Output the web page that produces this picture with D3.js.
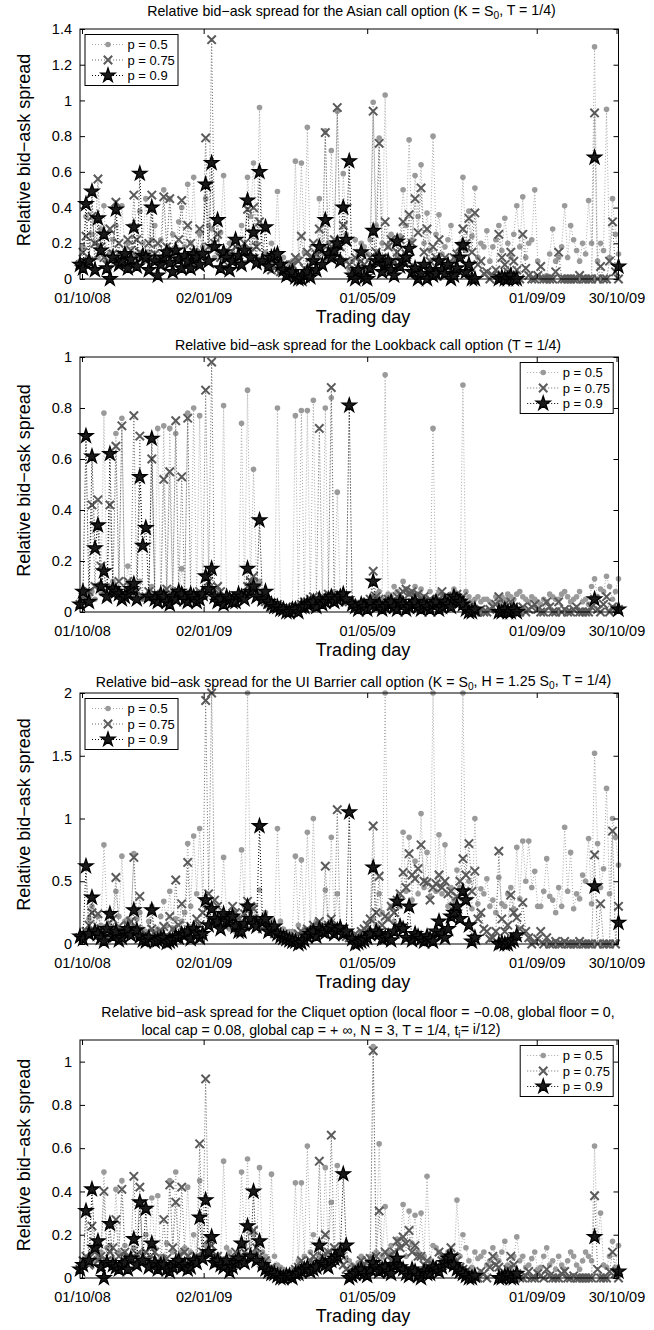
<!DOCTYPE html>
<html>
<head>
<meta charset="utf-8">
<script src="https://cdn.jsdelivr.net/npm/d3@7"></script>
<style>
    body { margin: 0; background: #fff; }
    svg text { font-family: "Liberation Sans", Arial, Helvetica, sans-serif; fill: #000; }
</style>
</head>
<body>
<svg id="chart" width="654" height="1330"></svg>
<script>
// ============================================
// 데이터 (그림에서 읽은 값, 1.5 거래일 간격)
// ============================================

const tradingDay = [
    0, 1.5, 3, 4.5, 6, 7.5, 9, 10.5, 12, 13.5, 15, 16.5, 18, 19.5, 21, 22.5, 24, 25.5, 27, 28.5,
    30, 31.5, 33, 34.5, 36, 37.5, 39, 40.5, 42, 43.5, 45, 46.5, 48, 49.5, 51, 52.5, 54, 55.5, 57, 58.5,
    60, 61.5, 63, 64.5, 66, 67.5, 69, 70.5, 72, 73.5, 75, 76.5, 78, 79.5, 81, 82.5, 84, 85.5, 87, 88.5,
    90, 91.5, 93, 94.5, 96, 97.5, 99, 100.5, 102, 103.5, 105, 106.5, 108, 109.5, 111, 112.5, 114, 115.5, 117, 118.5,
    120, 121.5, 123, 124.5, 126, 127.5, 129, 130.5, 132, 133.5, 135, 136.5, 138, 139.5, 141, 142.5, 144, 145.5, 147, 148.5,
    150, 151.5, 153, 154.5, 156, 157.5, 159, 160.5, 162, 163.5, 165, 166.5, 168, 169.5, 171, 172.5, 174, 175.5, 177, 178.5,
    180, 181.5, 183, 184.5, 186, 187.5, 189, 190.5, 192, 193.5, 195, 196.5, 198, 199.5, 201, 202.5, 204, 205.5, 207, 208.5,
    210, 211.5, 213, 214.5, 216, 217.5, 219, 220.5, 222, 223.5, 225, 226.5, 228, 229.5, 231, 232.5, 234, 235.5, 237, 238.5,
    240, 241.5, 243, 244.5, 246, 247.5, 249, 250.5, 252, 253.5, 255, 256.5, 258, 259.5, 261, 262.5, 264, 265.5, 267, 268.5,
    270
];

const xTickDays = [1, 62, 144, 229, 269];
const xTickLabels = ['01/10/08', '02/01/09', '01/05/09', '01/09/09', '30/10/09'];

const seriesNames = ['p = 0.5', 'p = 0.75', 'p = 0.9'];

// Asian call option
const asianP50 = [
    0.10,0.18, 0.35,0.12, 0.25,0.20, 0.12,0.28, 0.41,0.10, 0.15,0.22, 0.30,0.14, 0.41,0.16, 0.20,0.30, 0.14,0.12,
    0.38,0.20, 0.45,0.15, 0.22,0.30, 0.10,0.22, 0.50,0.14, 0.45,0.25, 0.18,0.32, 0.40,0.18, 0.53,0.20, 0.57,0.16,
    0.25,0.18, 0.45,0.30, 0.28,0.12, 0.15,0.26, 0.58,0.15, 0.20,0.22, 0.12,0.18, 0.30,0.14, 0.57,0.35, 0.65,0.20,
    0.96,0.12, 0.15,0.10, 0.20,0.14, 0.49,0.08, 0.12,0.06, 0.08,0.10, 0.66,0.12, 0.65,0.15, 0.85,0.08, 0.10,0.12,
    0.45,0.15, 0.83,0.20, 0.72,0.18, 0.94,0.12, 0.59,0.25, 0.05,0.10, 0.22,0.14, 0.20,0.18, 0.14,0.22, 0.99,0.30,
    0.79,0.20, 1.03,0.18, 0.25,0.10, 0.12,0.24, 0.50,0.30, 0.78,0.22, 0.58,0.35, 0.64,0.20, 0.37,0.16, 0.80,0.25,
    0.36,0.14, 0.18,0.22, 0.30,0.10, 0.12,0.20, 0.57,0.16, 0.38,0.24, 0.51,0.12, 0.20,0.18, 0.27,0.10, 0.18,0.22,
    0.30,0.16, 0.34,0.20, 0.12,0.25, 0.41,0.18, 0.46,0.12, 0.20,0.22, 0.50,0.10, 0.00,0.00, 0.02,0.14, 0.28,0.10,
    0.12,0.18, 0.41,0.12, 0.30,0.22, 0.16,0.10, 0.20,0.14, 0.44,0.20, 1.30,0.10, 0.20,0.16, 0.95,0.12, 0.45,0.25,
    0.14
];
const asianP75 = [
    0.08,0.15, 0.24,0.10, 0.35,0.20, 0.56,0.18, 0.12,0.08, 0.28,0.14, 0.43,0.20, 0.10,0.12, 0.22,0.16, 0.47,0.22,
    0.15,0.12, 0.10,0.20, 0.47,0.14, 0.20,0.10, 0.46,0.18, 0.45,0.16, 0.12,0.22, 0.44,0.12, 0.30,0.20, 0.15,0.10,
    0.28,0.14, 0.79,0.18, 1.34,0.20, 0.25,0.12, 0.10,0.16, 0.14,0.10, 0.18,0.12, 0.08,0.20, 0.39,0.15, 0.40,0.18,
    0.32,0.10, 0.12,0.08, 0.05,0.06, 0.10,0.04, 0.08,0.05, 0.04,0.08, 0.12,0.10, 0.24,0.06, 0.15,0.12, 0.20,0.14,
    0.28,0.16, 0.82,0.12, 0.18,0.22, 0.96,0.18, 0.30,0.10, 0.08,0.04, 0.12,0.06, 0.10,0.08, 0.06,0.12, 0.94,0.15,
    0.76,0.12, 0.32,0.18, 0.22,0.10, 0.15,0.22, 0.32,0.14, 0.36,0.20, 0.45,0.26, 0.51,0.15, 0.28,0.10, 0.18,0.12,
    0.22,0.10, 0.12,0.06, 0.08,0.12, 0.14,0.18, 0.28,0.20, 0.34,0.15, 0.37,0.08, 0.10,0.03, 0.04,0.00, 0.02,0.05,
    0.25,0.12, 0.08,0.04, 0.15,0.10, 0.05,0.00, 0.25,0.06, 0.02,0.00, 0.00,0.02, 0.07,0.00, 0.00,0.00, 0.00,0.04,
    0.15,0.00, 0.00,0.00, 0.00,0.00, 0.00,0.02, 0.00,0.00, 0.00,0.00, 0.93,0.00, 0.07,0.00, 0.00,0.10, 0.32,0.04,
    0.00
];
const asianP90 = [
    0.08,0.06, 0.42,0.10, 0.49,0.05, 0.34,0.16, 0.25,0.06, 0.00,0.12, 0.39,0.08, 0.10,0.14, 0.06,0.11, 0.29,0.07,
    0.59,0.13, 0.12,0.05, 0.40,0.10, 0.02,0.08, 0.12,0.15, 0.09,0.04, 0.16,0.11, 0.06,0.13, 0.10,0.06, 0.14,0.12,
    0.08,0.14, 0.53,0.10, 0.65,0.18, 0.33,0.06, 0.15,0.12, 0.05,0.10, 0.22,0.13, 0.08,0.16, 0.44,0.12, 0.26,0.09,
    0.60,0.10, 0.29,0.07, 0.12,0.13, 0.14,0.08, 0.05,0.02, 0.03,0.04, 0.01,0.00, 0.00,0.02, 0.04,0.01, 0.10,0.05,
    0.18,0.08, 0.33,0.14, 0.12,0.16, 0.20,0.10, 0.40,0.22, 0.66,0.02, 0.00,0.05, 0.15,0.01, 0.00,0.06, 0.27,0.10,
    0.12,0.04, 0.08,0.10, 0.05,0.02, 0.21,0.07, 0.10,0.12, 0.17,0.04, 0.06,0.00, 0.03,0.08, 0.00,0.05, 0.02,0.03,
    0.10,0.05, 0.03,0.08, 0.00,0.02, 0.06,0.12, 0.19,0.04, 0.08,0.00, 0.00,null, null,null, null,null, null,null,
    0.00,0.01, 0.00,0.00, 0.02,0.00, 0.00,null, null,null, null,null, null,null, null,null, null,null, null,null,
    null,null, null,null, null,null, null,null, null,null, null,null, 0.68,null, null,null, null,null, null,null,
    0.07
];

// Lookback call option
const lookbackP50 = [
    0.03,0.04, 0.05,0.06, 0.08,0.05, 0.10,0.08, 0.78,0.07, 0.10,0.12, 0.70,0.09, 0.76,0.06, 0.18,0.10, 0.08,0.05,
    0.12,0.05, 0.06,0.08, 0.10,0.06, 0.72,0.07, 0.73,0.05, 0.72,0.09, 0.70,0.06, 0.17,0.08, 0.78,0.07, 0.80,0.05,
    0.77,0.06, 0.06,0.08, 0.09,0.05, 0.05,0.07, 0.81,0.06, 0.06,0.05, 0.04,0.06, 0.74,0.08, 0.87,0.10, 0.56,0.12,
    0.12,0.06, 0.05,0.04, 0.03,0.02, 0.80,0.03, 0.02,0.01, 0.01,0.02, 0.77,0.03, 0.79,0.04, 0.79,0.05, 0.83,0.04,
    0.05,0.04, 0.80,0.06, 0.84,0.08, 0.47,0.05, 0.06,0.04, 0.05,0.03, 0.04,0.02, 0.02,0.04, 0.03,0.05, 0.06,0.07,
    0.08,0.05, 0.93,0.07, 0.06,0.10, 0.08,0.06, 0.12,0.09, 0.07,0.08, 0.10,0.07, 0.09,0.06, 0.05,0.08, 0.72,0.06,
    0.08,0.07, 0.06,0.05, 0.07,0.09, 0.05,0.06, 0.89,0.08, 0.06,0.04, 0.05,0.06, 0.04,0.05, 0.05,0.04, 0.03,0.06,
    0.04,0.06, 0.05,0.07, 0.06,0.05, 0.07,0.08, 0.06,0.05, 0.04,0.06, 0.05,0.04, 0.03,0.05, 0.04,0.07, 0.06,0.05,
    0.05,0.07, 0.08,0.06, 0.04,0.05, 0.06,0.08, 0.04,0.05, 0.03,0.10, 0.13,0.06, 0.09,0.08, 0.14,0.10, 0.05,0.08,
    0.13
];
const lookbackP75 = [
    0.03,0.06, 0.05,0.08, 0.42,0.10, 0.44,0.18, 0.08,0.06, 0.42,0.09, 0.65,0.12, 0.73,0.07, 0.12,0.10, 0.77,0.08,
    0.69,0.06, 0.06,0.08, 0.60,0.07, 0.05,0.05, 0.52,0.09, 0.55,0.06, 0.75,0.08, 0.53,0.07, 0.76,0.06, 0.07,0.05,
    0.08,0.07, 0.87,0.12, 0.98,0.09, 0.10,0.08, 0.06,0.05, 0.05,0.06, 0.04,0.05, 0.06,0.07, 0.10,0.12, 0.14,0.09,
    0.07,0.05, 0.04,0.03, 0.02,0.02, 0.03,0.01, 0.01,0.02, 0.01,0.01, 0.02,0.02, 0.03,0.04, 0.04,0.05, 0.06,0.04,
    0.72,0.06, 0.05,0.07, 0.88,0.06, 0.06,0.05, 0.05,0.04, 0.04,0.03, 0.03,0.02, 0.02,0.03, 0.04,0.05, 0.16,0.06,
    0.05,0.04, 0.03,0.05, 0.04,0.03, 0.06,0.07, 0.08,0.09, 0.07,0.08, 0.06,0.07, 0.05,0.06, 0.04,0.05, 0.03,0.04,
    0.05,0.08, 0.06,0.05, 0.04,0.06, 0.07,0.05, 0.06,0.03, 0.02,0.01, 0.00,0.00, 0.01,0.00, 0.00,0.01, 0.02,0.03,
    0.06,0.02, 0.03,0.01, 0.04,0.02, 0.00,0.00, 0.02,0.00, 0.01,0.02, 0.03,0.01, 0.00,0.00, 0.04,0.02, 0.00,0.00,
    0.04,0.00, 0.01,0.00, 0.00,0.01, 0.02,0.00, 0.00,0.00, 0.00,0.02, 0.05,0.01, 0.00,0.03, 0.06,0.00, 0.02,0.01,
    0.01
];
const lookbackP90 = [
    0.03,0.08, 0.69,0.04, 0.61,0.25, 0.34,0.10, 0.16,0.06, 0.62,0.09, 0.08,0.07, 0.05,0.06, 0.07,0.09, 0.11,0.05,
    0.53,0.26, 0.33,0.06, 0.68,0.05, 0.04,0.07, 0.06,0.04, 0.03,0.06, 0.05,0.08, 0.07,0.05, 0.04,0.07, 0.06,0.04,
    0.05,0.07, 0.14,0.09, 0.17,0.06, 0.04,0.05, 0.03,0.06, 0.05,0.04, 0.04,0.07, 0.06,0.05, 0.17,0.08, 0.10,0.06,
    0.36,0.05, 0.08,0.04, 0.03,0.02, 0.02,0.01, 0.01,0.00, 0.00,0.01, 0.01,0.00, 0.02,0.02, 0.03,0.03, 0.04,0.02,
    0.05,0.03, 0.04,0.05, 0.06,0.04, 0.05,0.06, 0.07,0.05, 0.81,0.03, 0.02,0.01, 0.03,0.02, 0.01,0.04, 0.12,0.02,
    0.03,0.01, 0.02,0.03, 0.04,0.02, 0.01,0.04, 0.03,0.01, 0.02,0.03, 0.04,0.02, 0.01,0.03, 0.02,0.01, 0.03,0.04,
    0.01,0.02, 0.04,0.03, 0.02,0.06, 0.05,0.04, 0.03,0.01, 0.00,0.00, 0.01,null, null,null, null,null, null,null,
    0.00,0.00, 0.01,0.00, 0.00,0.01, 0.00,null, null,null, null,null, null,null, null,null, null,null, null,null,
    null,null, null,null, null,null, null,null, null,null, null,null, 0.05,null, null,null, null,null, null,null,
    0.01
];

// UI Barrier call option
const barrierP50 = [
    0.05,0.08, 0.10,0.20, 0.30,0.12, 0.22,0.15, 0.79,0.25, 0.15,0.10, 0.42,0.22, 0.70,0.18, 0.20,0.14, 0.72,0.20,
    0.25,0.12, 0.10,0.18, 0.30,0.10, 0.12,0.22, 0.34,0.15, 0.42,0.12, 0.20,0.08, 0.18,0.25, 0.80,0.30, 0.86,0.40,
    0.92,0.35, 0.30,0.22, 0.20,0.28, 0.15,0.18, 0.69,0.24, 0.12,0.15, 0.10,0.20, 0.75,0.30, 2.00,0.25, 0.30,0.22,
    0.43,0.20, 0.25,0.15, 0.20,0.12, 0.92,0.18, 0.12,0.08, 0.10,0.10, 0.70,0.15, 0.67,0.12, 0.89,0.10, 1.00,0.18,
    0.15,0.10, 0.43,0.12, 0.85,0.15, 0.40,0.12, 0.10,0.06, 0.08,0.04, 0.06,0.05, 0.10,0.08, 0.12,0.10, 0.20,0.15,
    0.40,0.25, 2.00,0.20, 0.30,0.18, 0.35,0.30, 0.89,0.42, 0.85,0.35, 0.66,0.40, 1.04,0.45, 0.73,0.38, 2.00,0.42,
    0.87,0.40, 0.79,0.30, 0.45,0.35, 0.59,0.45, 2.00,0.38, 0.50,0.28, 1.00,0.32, 0.44,0.40, 0.52,0.30, 0.35,0.25,
    0.53,0.32, 0.30,0.40, 0.45,0.28, 0.77,0.36, 0.82,0.50, 0.82,0.45, 0.58,0.30, 0.30,0.42, 0.68,0.38, 0.35,0.25,
    0.45,0.30, 0.93,0.42, 0.73,0.28, 0.40,0.36, 0.55,0.50, 0.84,0.32, 1.52,0.80, 0.45,0.60, 1.24,0.40, 1.00,0.85,
    0.63
];
const barrierP75 = [
    0.05,0.06, 0.10,0.15, 0.25,0.10, 0.24,0.12, 0.08,0.05, 0.12,0.20, 0.53,0.14, 0.10,0.08, 0.15,0.18, 0.69,0.12,
    0.38,0.06, 0.08,0.05, 0.12,0.08, 0.05,0.10, 0.14,0.06, 0.22,0.12, 0.51,0.15, 0.32,0.10, 0.65,0.14, 0.10,0.20,
    0.15,0.25, 1.94,0.40, 2.00,0.35, 0.30,0.22, 0.15,0.18, 0.20,0.30, 0.25,0.20, 0.18,0.24, 0.34,0.30, 0.28,0.18,
    0.20,0.12, 0.15,0.10, 0.12,0.08, 0.10,0.06, 0.08,0.04, 0.05,0.05, 0.06,0.08, 0.10,0.07, 0.12,0.10, 0.15,0.12,
    0.18,0.10, 0.62,0.15, 0.20,0.12, 1.07,0.10, 0.12,0.06, 0.05,0.04, 0.08,0.06, 0.10,0.12, 0.15,0.20, 0.94,0.25,
    0.54,0.15, 0.22,0.20, 0.30,0.25, 0.35,0.40, 0.57,0.45, 0.72,0.55, 0.52,0.60, 0.79,0.50, 0.49,0.35, 0.45,0.48,
    0.55,0.45, 0.50,0.40, 0.42,0.30, 0.38,0.50, 0.68,0.55, 0.80,0.42, 0.58,0.20, 0.25,0.12, 0.10,0.04, 0.05,0.10,
    0.74,0.20, 0.10,0.15, 0.39,0.25, 0.21,0.12, 0.33,0.10, 0.05,0.00, 0.02,0.04, 0.10,0.00, 0.05,0.00, 0.00,0.02,
    0.00,0.00, 0.02,0.00, 0.00,0.00, 0.00,0.02, 0.00,0.00, 0.00,0.00, 0.71,0.00, 0.32,0.00, 0.00,0.00, 0.90,0.00,
    0.30
];
const barrierP90 = [
    0.06,0.04, 0.62,0.08, 0.37,0.10, 0.08,0.05, 0.02,0.12, 0.24,0.06, 0.10,0.03, 0.05,0.09, 0.12,0.07, 0.27,0.11,
    0.06,0.03, 0.02,0.05, 0.27,0.02, 0.03,0.04, 0.05,0.01, 0.02,0.03, 0.06,0.05, 0.08,0.07, 0.10,0.04, 0.12,0.09,
    0.05,0.08, 0.35,0.15, 0.28,0.20, 0.18,0.12, 0.24,0.18, 0.20,0.22, 0.14,0.10, 0.10,0.16, 0.30,0.20, 0.16,0.14,
    0.94,0.18, 0.20,0.10, 0.12,0.14, 0.08,0.06, 0.05,0.04, 0.03,0.02, 0.02,0.00, 0.01,0.03, 0.06,0.08, 0.10,0.06,
    0.12,0.10, 0.09,0.12, 0.14,0.08, 0.11,0.13, 0.08,0.10, 1.05,0.04, 0.00,0.01, 0.02,0.03, 0.05,0.08, 0.61,0.10,
    0.08,0.04, 0.05,0.06, 0.03,0.10, 0.34,0.14, 0.12,0.05, 0.30,0.03, 0.08,0.06, 0.04,0.02, 0.06,0.04, 0.02,0.10,
    0.18,0.08, 0.05,0.12, 0.22,0.25, 0.30,0.20, 0.42,0.35, 0.15,0.02, 0.05,null, null,null, null,null, null,null,
    0.00,0.01, 0.00,0.00, 0.02,0.03, 0.07,null, null,null, null,null, null,null, null,null, null,null, null,null,
    null,null, null,null, null,null, null,null, null,null, null,null, 0.46,null, null,null, null,null, null,null,
    0.17
];

// Cliquet option
const cliquetP50 = [
    0.04,0.06, 0.08,0.10, 0.12,0.08, 0.10,0.12, 0.49,0.14, 0.15,0.09, 0.41,0.12, 0.45,0.15, 0.10,0.08, 0.14,0.10,
    0.08,0.12, 0.20,0.09, 0.37,0.14, 0.38,0.10, 0.10,0.16, 0.45,0.12, 0.49,0.10, 0.12,0.14, 0.42,0.12, 0.20,0.08,
    0.45,0.10, 0.15,0.12, 0.08,0.06, 0.10,0.09, 0.54,0.14, 0.12,0.08, 0.10,0.12, 0.49,0.15, 0.55,0.10, 0.20,0.12,
    0.51,0.12, 0.10,0.08, 0.48,0.10, 0.06,0.05, 0.04,0.03, 0.02,0.04, 0.44,0.08, 0.44,0.10, 0.61,0.12, 0.20,0.08,
    0.10,0.08, 0.51,0.12, 0.35,0.10, 0.52,0.14, 0.12,0.09, 0.08,0.06, 0.05,0.07, 0.10,0.05, 0.07,0.10, 1.07,0.12,
    0.62,0.10, 0.33,0.12, 0.15,0.08, 0.18,0.14, 0.34,0.10, 0.31,0.16, 0.29,0.12, 0.30,0.10, 0.47,0.08, 0.15,0.14,
    0.12,0.08, 0.10,0.12, 0.08,0.06, 0.36,0.10, 0.20,0.14, 0.08,0.05, 0.12,0.09, 0.10,0.12, 0.06,0.08, 0.14,0.10,
    0.08,0.12, 0.17,0.06, 0.05,0.10, 0.19,0.08, 0.10,0.05, 0.06,0.09, 0.12,0.04, 0.05,0.10, 0.14,0.06, 0.08,0.04,
    0.10,0.06, 0.04,0.08, 0.12,0.10, 0.06,0.04, 0.08,0.12, 0.10,0.08, 0.61,0.18, 0.30,0.06, 0.05,0.10, 0.17,0.05,
    0.15
];
const cliquetP75 = [
    0.04,0.08, 0.10,0.06, 0.24,0.12, 0.08,0.10, 0.40,0.08, 0.12,0.14, 0.27,0.10, 0.41,0.12, 0.10,0.09, 0.47,0.11,
    0.42,0.10, 0.12,0.08, 0.15,0.12, 0.08,0.06, 0.27,0.09, 0.43,0.14, 0.35,0.10, 0.42,0.12, 0.10,0.07, 0.08,0.10,
    0.62,0.12, 0.92,0.18, 0.15,0.10, 0.10,0.08, 0.08,0.06, 0.06,0.09, 0.12,0.07, 0.10,0.12, 0.23,0.10, 0.22,0.14,
    0.10,0.06, 0.08,0.04, 0.05,0.03, 0.03,0.02, 0.02,0.01, 0.01,0.02, 0.04,0.05, 0.08,0.06, 0.05,0.08, 0.10,0.06,
    0.54,0.10, 0.20,0.12, 0.66,0.14, 0.12,0.08, 0.06,0.04, 0.03,0.02, 0.05,0.04, 0.08,0.06, 0.08,0.09, 1.05,0.10,
    0.31,0.06, 0.12,0.10, 0.08,0.12, 0.17,0.14, 0.19,0.16, 0.22,0.12, 0.15,0.10, 0.10,0.06, 0.08,0.04, 0.06,0.05,
    0.12,0.08, 0.10,0.06, 0.14,0.10, 0.08,0.05, 0.04,0.03, 0.02,0.01, 0.01,0.00, 0.03,0.02, 0.00,0.05, 0.10,0.06,
    0.05,0.02, 0.00,0.04, 0.10,0.06, 0.02,0.00, 0.00,0.01, 0.03,0.00, 0.00,0.02, 0.01,0.00, 0.04,0.01, 0.00,0.00,
    0.00,0.02, 0.03,0.00, 0.00,0.01, 0.00,0.00, 0.00,0.00, 0.00,0.00, 0.38,0.04, 0.00,0.00, 0.00,0.03, 0.12,0.02,
    0.00
];
const cliquetP90 = [
    0.04,0.06, 0.31,0.08, 0.41,0.14, 0.17,0.05, 0.00,0.07, 0.25,0.06, 0.05,0.04, 0.06,0.07, 0.04,0.09, 0.18,0.06,
    0.35,0.08, 0.32,0.05, 0.16,0.07, 0.04,0.06, 0.06,0.04, 0.03,0.05, 0.07,0.08, 0.05,0.06, 0.04,0.05, 0.08,0.07,
    0.28,0.09, 0.36,0.12, 0.19,0.07, 0.08,0.06, 0.05,0.08, 0.03,0.05, 0.07,0.09, 0.16,0.07, 0.24,0.10, 0.40,0.08,
    0.17,0.06, 0.04,0.03, 0.02,0.02, 0.01,0.00, 0.00,0.01, 0.01,0.00, 0.02,0.02, 0.03,0.04, 0.05,0.03, 0.04,0.05,
    0.15,0.07, 0.06,0.05, 0.08,0.09, 0.10,0.12, 0.48,0.15, 0.00,0.01, 0.02,0.03, 0.04,0.02, 0.01,0.04, 0.07,0.05,
    0.03,0.04, 0.05,0.03, 0.02,0.06, 0.09,0.05, 0.04,0.02, 0.01,0.04, 0.03,0.01, 0.00,0.03, 0.02,0.02, 0.05,0.04,
    0.03,0.05, 0.07,0.09, 0.10,0.06, 0.04,0.03, 0.02,0.01, 0.00,0.00, 0.01,null, null,null, null,null, null,null,
    0.00,0.00, 0.01,0.01, 0.00,0.00, 0.02,null, null,null, null,null, null,null, null,null, null,null, null,null,
    null,null, null,null, null,null, null,null, null,null, null,null, 0.19,null, null,null, null,null, null,null,
    0.03
];

const asianYTicks = [0, 0.2, 0.4, 0.6, 0.8, 1, 1.2, 1.4];
const lookbackYTicks = [0, 0.2, 0.4, 0.6, 0.8, 1];
const barrierYTicks = [0, 0.5, 1, 1.5, 2];
const cliquetYTicks = [0, 0.2, 0.4, 0.6, 0.8, 1];

// ============================================
// 스타일
// ============================================

const PLOT_LEFT = 80;
const PLOT_RIGHT = 618.5;

const seriesStyle = [
    { line: '#a8a8a8', marker: '#9a9a9a', kind: 'dot' },
    { line: '#6a6a6a', marker: '#5a5a5a', kind: 'cross' },
    { line: '#000000', marker: '#000000', kind: 'star' }
];

const starPath = d3.symbol().type(d3.symbolStar).size(62)();
const crossPath = 'M-4.2,-4.2L4.2,4.2M-4.2,4.2L4.2,-4.2';

const svg = d3.select('#chart');

const x = d3.scaleLinear()
    .domain([0, 270])
    .range([PLOT_LEFT, PLOT_RIGHT]);

// 아래첨자가 섞인 텍스트
function richText(sel, parts) {
    let lowered = false;
    parts.forEach(p => {
        const ts = sel.append('tspan').text(p.t);
        if (p.sub) {
            ts.attr('dy', '0.3em').style('font-size', '72%');
            lowered = true;
        } else if (lowered) {
            ts.attr('dy', '-0.3em');
            lowered = false;
        }
    });
}

function drawMarker(g, kind, color, cx, cy) {
    if (kind === 'dot') {
        g.append('circle')
            .attr('cx', cx).attr('cy', cy).attr('r', 2.8)
            .attr('fill', color);
    } else if (kind === 'cross') {
        g.append('path')
            .attr('d', crossPath)
            .attr('transform', `translate(${cx},${cy})`)
            .attr('fill', 'none')
            .attr('stroke', color)
            .attr('stroke-width', 2);
    } else {
        g.append('path')
            .attr('d', starPath)
            .attr('transform', `translate(${cx},${cy})`)
            .attr('fill', '#1a1a1a')
            .attr('stroke', '#000')
            .attr('stroke-width', 1.3);
    }
}

function drawPanel(cfg) {
    const g = svg.append('g');

    const y = d3.scaleLinear()
        .domain([0, cfg.yMax])
        .range([cfg.bottom, cfg.top]);

    // 제목
    cfg.title.forEach(line => {
        const t = g.append('text')
            .attr('x', line.cx)
            .attr('y', line.y)
            .attr('text-anchor', 'middle')
            .style('font-size', '14.2px');
        richText(t, line.parts);
    });

    // 시리즈 (선 + 마커)
    cfg.series.forEach((values, k) => {
        const st = seriesStyle[k];
        const line = d3.line()
            .defined(d => d != null)
            .x((d, i) => x(tradingDay[i]))
            .y(d => y(d));

        g.append('path')
            .datum(values)
            .attr('fill', 'none')
            .attr('stroke', st.line)
            .attr('stroke-width', 1)
            .attr('stroke-dasharray', '1,2')
            .attr('d', line);

        const mg = g.append('g');
        values.forEach((v, i) => {
            if (v == null) return;
            drawMarker(mg, st.kind, st.marker, x(tradingDay[i]), y(v));
        });
    });

    // 축 프레임
    g.append('rect')
        .attr('x', PLOT_LEFT)
        .attr('y', cfg.top)
        .attr('width', PLOT_RIGHT - PLOT_LEFT)
        .attr('height', cfg.bottom - cfg.top)
        .attr('fill', 'none')
        .attr('stroke', '#000')
        .attr('stroke-width', 1);

    const yLeft = g.append('g')
        .attr('transform', `translate(${PLOT_LEFT},0)`)
        .call(d3.axisLeft(y)
            .tickValues(cfg.yTicks)
            .tickFormat(d3.format('~g'))
            .tickSizeInner(-5)
            .tickSizeOuter(0)
            .tickPadding(8));

    g.append('g')
        .attr('transform', `translate(${PLOT_RIGHT},0)`)
        .call(d3.axisRight(y)
            .tickValues(cfg.yTicks)
            .tickFormat('')
            .tickSizeInner(-5)
            .tickSizeOuter(0));

    const xBottom = g.append('g')
        .attr('transform', `translate(0,${cfg.bottom})`)
        .call(d3.axisBottom(x)
            .tickValues(xTickDays)
            .tickFormat((d, i) => xTickLabels[i])
            .tickSizeInner(-5)
            .tickSizeOuter(0)
            .tickPadding(14));

    g.append('g')
        .attr('transform', `translate(0,${cfg.top})`)
        .call(d3.axisTop(x)
            .tickValues(xTickDays)
            .tickFormat('')
            .tickSizeInner(-5)
            .tickSizeOuter(0));

    g.selectAll('.domain').remove();
    g.selectAll('.tick line').attr('stroke', '#000');
    [yLeft, xBottom].forEach(a => a.selectAll('text')
        .style('font-size', '14.5px')
        .style('font-family', '"Liberation Sans", Arial, sans-serif')
        .attr('fill', '#000'));

    // 축 레이블
    g.append('text')
        .attr('x', 363)
        .attr('y', cfg.bottom + 44)
        .attr('text-anchor', 'middle')
        .style('font-size', '18px')
        .text('Trading day');

    g.append('text')
        .attr('transform', `translate(30,${(cfg.top + cfg.bottom) / 2 - 4}) rotate(-90)`)
        .attr('text-anchor', 'middle')
        .style('font-size', '18px')
        .text('Relative bid\u2212ask spread');

    // 범례
    const bw = 93, bh = 51;
    const bx = cfg.legend === 'nw' ? PLOT_LEFT + 5 : PLOT_RIGHT - 5.3 - bw;
    const by = cfg.top + 5.5;
    const lg = g.append('g').attr('transform', `translate(${bx},${by})`);
    lg.append('rect')
        .attr('width', bw).attr('height', bh)
        .attr('fill', '#fff')
        .attr('stroke', '#000')
        .attr('stroke-width', 1);

    const rowY = [10, 25.5, 41];
    seriesNames.forEach((name, k) => {
        const st = seriesStyle[k];
        lg.append('line')
            .attr('x1', 7).attr('x2', 38)
            .attr('y1', rowY[k]).attr('y2', rowY[k])
            .attr('stroke', st.line)
            .attr('stroke-width', 1)
            .attr('stroke-dasharray', '1,2');
        drawMarker(lg, st.kind, st.marker, 23, rowY[k]);
        lg.append('text')
            .attr('x', 42.5)
            .attr('y', rowY[k])
            .attr('dy', '0.36em')
            .style('font-size', '13px')
            .text(name);
    });
}

// ============================================
// 패널 구성
// ============================================

const panels = [
    {
        title: [{ cx: 351.5, y: 16, parts: [
            { t: 'Relative bid\u2212ask spread for the Asian call option (K = S' },
            { t: '0', sub: true },
            { t: ', T = 1/4)' }
        ] }],
        top: 29, bottom: 279, yMax: 1.4, yTicks: asianYTicks,
        series: [asianP50, asianP75, asianP90], legend: 'nw'
    },
    {
        title: [{ cx: 368, y: 350, parts: [
            { t: 'Relative bid\u2212ask spread for the Lookback call option (T = 1/4)' }
        ] }],
        top: 357, bottom: 612, yMax: 1, yTicks: lookbackYTicks,
        series: [lookbackP50, lookbackP75, lookbackP90], legend: 'ne'
    },
    {
        title: [{ cx: 353.5, y: 687, parts: [
            { t: 'Relative bid\u2212ask spread for the UI Barrier call option (K = S' },
            { t: '0', sub: true },
            { t: ', H = 1.25 S' },
            { t: '0', sub: true },
            { t: ', T = 1/4)' }
        ] }],
        top: 693, bottom: 944, yMax: 2, yTicks: barrierYTicks,
        series: [barrierP50, barrierP75, barrierP90], legend: 'nw'
    },
    {
        title: [
            { cx: 358, y: 1017, parts: [
                { t: 'Relative bid\u2212ask spread for the Cliquet option (local floor = \u22120.08, global floor = 0,' }
            ] },
            { cx: 321, y: 1035, parts: [
                { t: 'local cap = 0.08, global cap = + \u221e, N = 3, T = 1/4, t' },
                { t: 'i', sub: true },
                { t: '= i/12)' }
            ] }
        ],
        top: 1040, bottom: 1278, yMax: 1.1, yTicks: cliquetYTicks,
        series: [cliquetP50, cliquetP75, cliquetP90], legend: 'ne'
    }
];

panels.forEach(drawPanel);
</script>
</body>
</html>
